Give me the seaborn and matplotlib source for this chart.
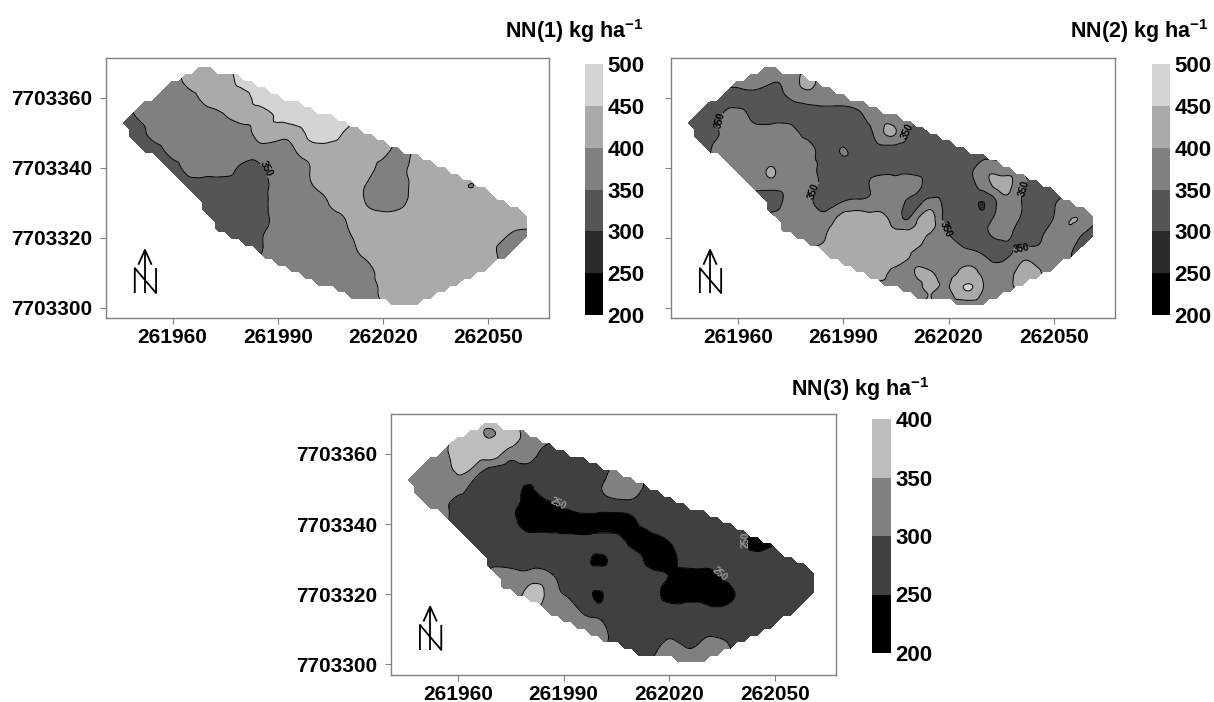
import numpy as np
import matplotlib
matplotlib.use('Agg')
import matplotlib.pyplot as plt
import matplotlib.tri as mtri
from matplotlib.colors import ListedColormap
from matplotlib.path import Path
import seaborn as sns

# grid nodes of the three maps
x_nodes = list(range(261945, 262066, 5))
y_nodes = list(range(7703370, 7703299, -5))

# NN(1), kg/ha, rows from north to south
nn1 = [
    [375,375,375,375,425,425,425,475,475,475,475,475,475,475,475,475,475,475,475,475,475,475,475,475,475],
    [375,375,375,375,425,425,425,475,475,475,475,475,475,475,475,475,475,475,475,475,475,475,475,475,475],
    [375,375,375,375,375,425,425,425,475,475,475,475,475,475,475,475,475,475,475,475,475,475,475,475,475],
    [325,355,375,375,375,375,400,425,425,460,475,475,475,475,425,425,425,425,425,425,425,425,425,425,425],
    [325,325,375,375,375,375,375,375,425,425,425,475,475,440,425,425,425,425,425,425,425,425,425,425,425],
    [325,325,325,375,375,375,375,375,375,375,400,425,425,425,425,425,375,425,425,425,425,425,425,425,425],
    [325,325,325,325,375,375,375,340,345,355,375,405,425,425,425,375,375,425,425,425,425,425,425,425,425],
    [325,325,325,325,325,325,325,325,325,375,375,400,425,425,400,375,375,425,425,425,399,425,425,425,425],
    [325,325,325,325,325,325,325,325,325,375,375,375,405,425,400,375,385,425,425,425,425,425,425,425,425],
    [325,325,325,325,325,325,325,325,325,375,375,375,375,405,425,425,425,425,425,425,425,425,425,425,425],
    [325,325,325,325,325,325,325,325,345,375,375,375,375,390,425,425,425,425,425,425,425,425,400,375,375],
    [325,325,325,325,325,325,325,325,350,375,375,375,375,380,410,425,425,425,425,425,425,425,375,375,375],
    [325,325,325,325,325,325,325,325,375,375,375,375,375,375,375,425,425,425,425,425,425,425,425,425,425],
    [325,325,325,325,325,325,325,325,375,375,375,375,375,375,375,410,425,425,425,425,425,425,425,425,425],
    [325,325,325,325,325,325,325,325,375,375,375,375,375,375,375,400,425,425,425,425,425,425,425,425,425],
]

# NN(2)
nn2 = [
    [375,375,375,375,375,375,375,375,375,375,375,375,375,375,375,375,375,375,375,375,375,375,375,375,375],
    [375,375,375,375,375,355,375,410,375,375,375,375,375,375,375,375,375,375,375,375,375,375,375,375,375],
    [325,325,325,325,325,325,355,375,375,375,375,375,375,375,375,375,375,375,375,375,375,375,375,375,375],
    [325,325,345,375,325,325,325,325,325,325,345,375,375,375,375,375,375,375,375,375,375,375,375,375,375],
    [325,325,352,375,375,375,375,325,325,325,325,375,401,325,325,325,325,325,325,325,325,325,325,325,325],
    [325,325,375,375,375,375,375,375,325,353,325,335,325,325,325,325,325,325,325,325,325,325,325,325,325],
    [375,375,375,375,375,401,375,375,325,325,325,325,325,325,325,325,325,375,375,375,325,325,325,325,325],
    [375,375,375,375,375,375,375,375,325,325,325,375,375,375,325,325,325,375,415,375,325,325,325,325,325],
    [375,375,375,375,325,325,375,370,325,355,365,375,375,335,370,325,325,299,375,360,325,345,375,375,375],
    [375,375,375,375,375,375,375,375,375,425,425,425,375,375,425,325,325,325,375,350,325,355,401,375,325],
    [375,375,375,375,375,375,375,375,400,425,425,425,425,425,385,355,325,325,360,325,335,375,375,325,325],
    [425,425,425,425,425,425,425,425,425,425,425,425,425,395,375,375,375,350,325,375,375,375,350,325,325],
    [425,425,425,425,425,425,425,425,425,425,425,425,385,398,402,390,410,390,385,405,410,375,375,375,375],
    [375,375,375,375,375,375,375,375,375,375,375,375,375,375,405,395,452,395,375,410,425,375,375,375,375],
    [375,375,375,375,375,375,375,375,375,375,375,375,375,375,405,375,345,375,375,375,375,375,375,375,375],
]

# NN(3)
nn3 = [
    [325,325,325,375,375,375,375,325,325,275,275,275,275,275,275,275,275,275,275,275,275,275,275,275,275],
    [325,325,325,375,375,349,375,325,325,275,275,275,275,275,275,275,275,275,275,275,275,275,275,275,275],
    [325,325,325,375,375,375,325,325,275,275,275,275,275,275,275,275,275,275,275,275,275,275,275,275,275],
    [325,325,325,355,325,275,275,275,275,275,275,275,325,325,275,275,275,275,275,275,275,275,275,275,275],
    [325,325,325,325,275,275,275,245,275,275,275,295,325,325,275,275,275,275,275,275,275,275,275,275,275],
    [325,325,325,275,275,275,265,225,225,250,275,275,275,275,275,275,275,275,275,275,275,275,275,275,275],
    [325,325,325,275,275,275,270,225,225,225,225,225,225,240,275,275,275,275,275,275,225,225,275,275,275],
    [275,275,275,275,275,275,275,275,275,275,275,275,275,225,225,250,275,275,275,275,215,245,275,275,275],
    [275,275,275,275,275,275,275,275,275,275,275,240,275,275,225,225,275,275,275,275,275,275,275,275,275],
    [275,275,275,275,275,325,325,325,325,275,275,275,275,275,275,248,225,225,250,275,275,275,275,275,275],
    [325,325,325,325,325,325,325,365,345,300,275,246,275,275,275,225,225,225,225,260,275,275,275,275,275],
    [375,375,375,375,375,375,375,375,325,325,300,275,275,275,275,275,275,265,262,275,275,275,275,275,275],
    [325,325,325,325,325,325,325,325,325,325,325,325,275,275,275,275,275,275,275,275,275,275,275,275,275],
    [325,325,325,325,325,325,325,325,325,325,325,325,275,275,275,325,298,325,325,275,275,275,275,275,275],
    [325,325,325,325,325,325,325,325,325,325,325,325,275,275,325,325,325,325,325,275,275,275,275,275,275],
]

# outline of the field
field_x = [261945.1, 261948.7, 261960.7, 261969.0, 261976.6, 261987.9, 262011.5, 262025.0,
           262045.7, 262058.7, 262061.9, 262061.9, 262052.8, 262041.0, 262033.0, 262029.2,
           262025.6, 262019.7, 262013.2, 261989.6, 261984.9, 261972.5, 261971.6, 261960.1, 261947.7]
field_y = [7703353.1, 7703356.5, 7703365.0, 7703368.9, 7703367.0, 7703361.7, 7703352.2, 7703345.5,
           7703336.0, 7703327.9, 7703325.5, 7703320.3, 7703313.1, 7703306.0, 7703302.0, 7703300.5,
           7703300.8, 7703301.5, 7703301.5, 7703312.7, 7703315.5, 7703322.2, 7703325.5, 7703337.4, 7703349.3]

levels_a = [200, 250, 300, 350, 400, 450, 500]
levels_b = [200, 250, 300, 350, 400]
greys_a = ['#000000', '#2b2b2b', '#555555', '#808080', '#aaaaaa', '#d4d4d4']
greys_b = ['#000000', '#404040', '#808080', '#bdbdbd']

x_ticks = [261960, 261990, 262020, 262050]
y_ticks = [7703300, 7703320, 7703340, 7703360]

labels_nn1 = [(261986.1, 7703339.3)]
labels_nn2 = [(261955.2, 7703353.4), (262007.4, 7703350.8), (261982.4, 7703332.9),
              (262020.0, 7703322.7), (262041.8, 7703334.1), (262040.8, 7703316.8)]
labels_nn3 = [(261989.0, 7703347.1), (262033.6, 7703325.0), (262040.9, 7703335.5)]

W, H = 1214, 702

sns.set_style('white')
plt.rcParams['font.family'] = ['Liberation Sans', 'DejaVu Sans']
plt.rcParams['font.weight'] = 'bold'
plt.rcParams['text.color'] = 'black'
plt.rcParams['xtick.labelcolor'] = 'black'
plt.rcParams['ytick.labelcolor'] = 'black'
plt.rcParams['mathtext.fontset'] = 'custom'
plt.rcParams['mathtext.rm'] = 'Liberation Sans:bold'
plt.rcParams['mathtext.bf'] = 'Liberation Sans:bold'
plt.rcParams['mathtext.default'] = 'bf'


def px_axes(fig, left, top, right, bottom):
    return fig.add_axes([left / W, 1 - bottom / H, (right - left) / W, (bottom - top) / H])


def north_arrow(ax):
    kw = dict(transform=ax.transAxes, color='black', lw=1.3, solid_capstyle='butt', zorder=7)
    ax.plot([0.088, 0.088], [0.096, 0.262], **kw)
    ax.plot([0.073, 0.088, 0.103], [0.205, 0.262, 0.205], **kw)
    ax.plot([0.065, 0.065, 0.113, 0.113], [0.096, 0.192, 0.096, 0.192], **kw)


def draw_map(fig, box, cbar_box, values, levels, greys, title, title_xy, label_pts, label_color, show_y=True):
    ax = px_axes(fig, *box)
    z = np.array(values, dtype=float)
    xx, yy = np.meshgrid(x_nodes, y_nodes)

    # smoother contour lines, the kriged maps have no corners
    tri = mtri.Triangulation(xx.ravel().astype(float), yy.ravel().astype(float))
    refiner = mtri.UniformTriRefiner(tri)
    tri_fine, z_fine = refiner.refine_field(z.ravel(), subdiv=3)
    z_fine = np.clip(z_fine, levels[0] + 1, levels[-1] - 1)
    ax.tricontourf(tri_fine, z_fine, levels=levels, colors=greys)
    lines = ax.tricontour(tri_fine, z_fine, levels=levels[1:-1], colors='black', linewidths=0.7)
    ax.clabel(lines, fmt='%d', fontsize=7, colors=label_color, manual=label_pts, inline=True, inline_spacing=1)

    # cells outside the field stay white, on a coarse grid so the edge comes out scalloped
    xf = np.arange(261935, 262075, 1.9)
    yf = np.arange(7703290, 7703380, 1.9)
    xm, ym = np.meshgrid(xf, yf)
    outline = Path(list(zip(field_x, field_y)))
    inside = outline.contains_points(np.c_[xm.ravel(), ym.ravel()]).reshape(xm.shape)
    ax.contourf(xf, yf, inside.astype(float), levels=[-0.5, 0.5], colors='white', zorder=4)

    ax.set_xlim(261941, 262067.4)
    ax.set_ylim(7703297, 7703371.4)
    ax.set_xticks(x_ticks, [str(t) for t in x_ticks])
    ax.set_yticks(y_ticks, [str(t) for t in y_ticks] if show_y else [])
    ax.tick_params(axis='both', length=4, width=0.8, color='#808080', labelsize=15, left=True, bottom=True)
    ax.tick_params(axis='x', pad=3)
    ax.tick_params(axis='y', pad=6)
    for s in ax.spines.values():
        s.set_color('#808080')
        s.set_linewidth(1.0)
        s.set_zorder(6)
    north_arrow(ax)

    # legend bar, one cell per class
    cax = px_axes(fig, *cbar_box)
    centres = [[(a + b) / 2] for a, b in zip(levels[:-1], levels[1:])][::-1]
    sns.heatmap(centres, ax=cax, cmap=ListedColormap(greys), vmin=levels[0], vmax=levels[-1],
                cbar=False, xticklabels=False)
    cax.yaxis.tick_right()
    cax.set_yticks(range(len(levels)), [str(v) for v in levels[::-1]], rotation=0)
    cax.tick_params(axis='y', length=0, labelsize=16, pad=3)

    fig.text(title_xy[0] / W, 1 - title_xy[1] / H, title, fontsize=15.5, fontweight='bold',
             ha='right', va='baseline')


def main():
    fig = plt.figure(figsize=(W / 100, H / 100), dpi=100)
    draw_map(fig, (106, 58, 549, 318), (585, 64, 603, 315), nn1, levels_a, greys_a,
             'NN(1) kg ha$^{-1}$', (643, 38), labels_nn1, 'black')
    draw_map(fig, (671, 58, 1115, 318), (1152, 64, 1170, 315), nn2, levels_a, greys_a,
             'NN(2) kg ha$^{-1}$', (1208, 38), labels_nn2, 'black', show_y=False)
    draw_map(fig, (391, 414, 836, 675), (872, 419, 891, 653), nn3, levels_b, greys_b,
             'NN(3) kg ha$^{-1}$', (929, 396), labels_nn3, '#9a9a9a')
    fig.savefig('out.png', dpi=100, facecolor='white')


if __name__ == '__main__':
    main()
